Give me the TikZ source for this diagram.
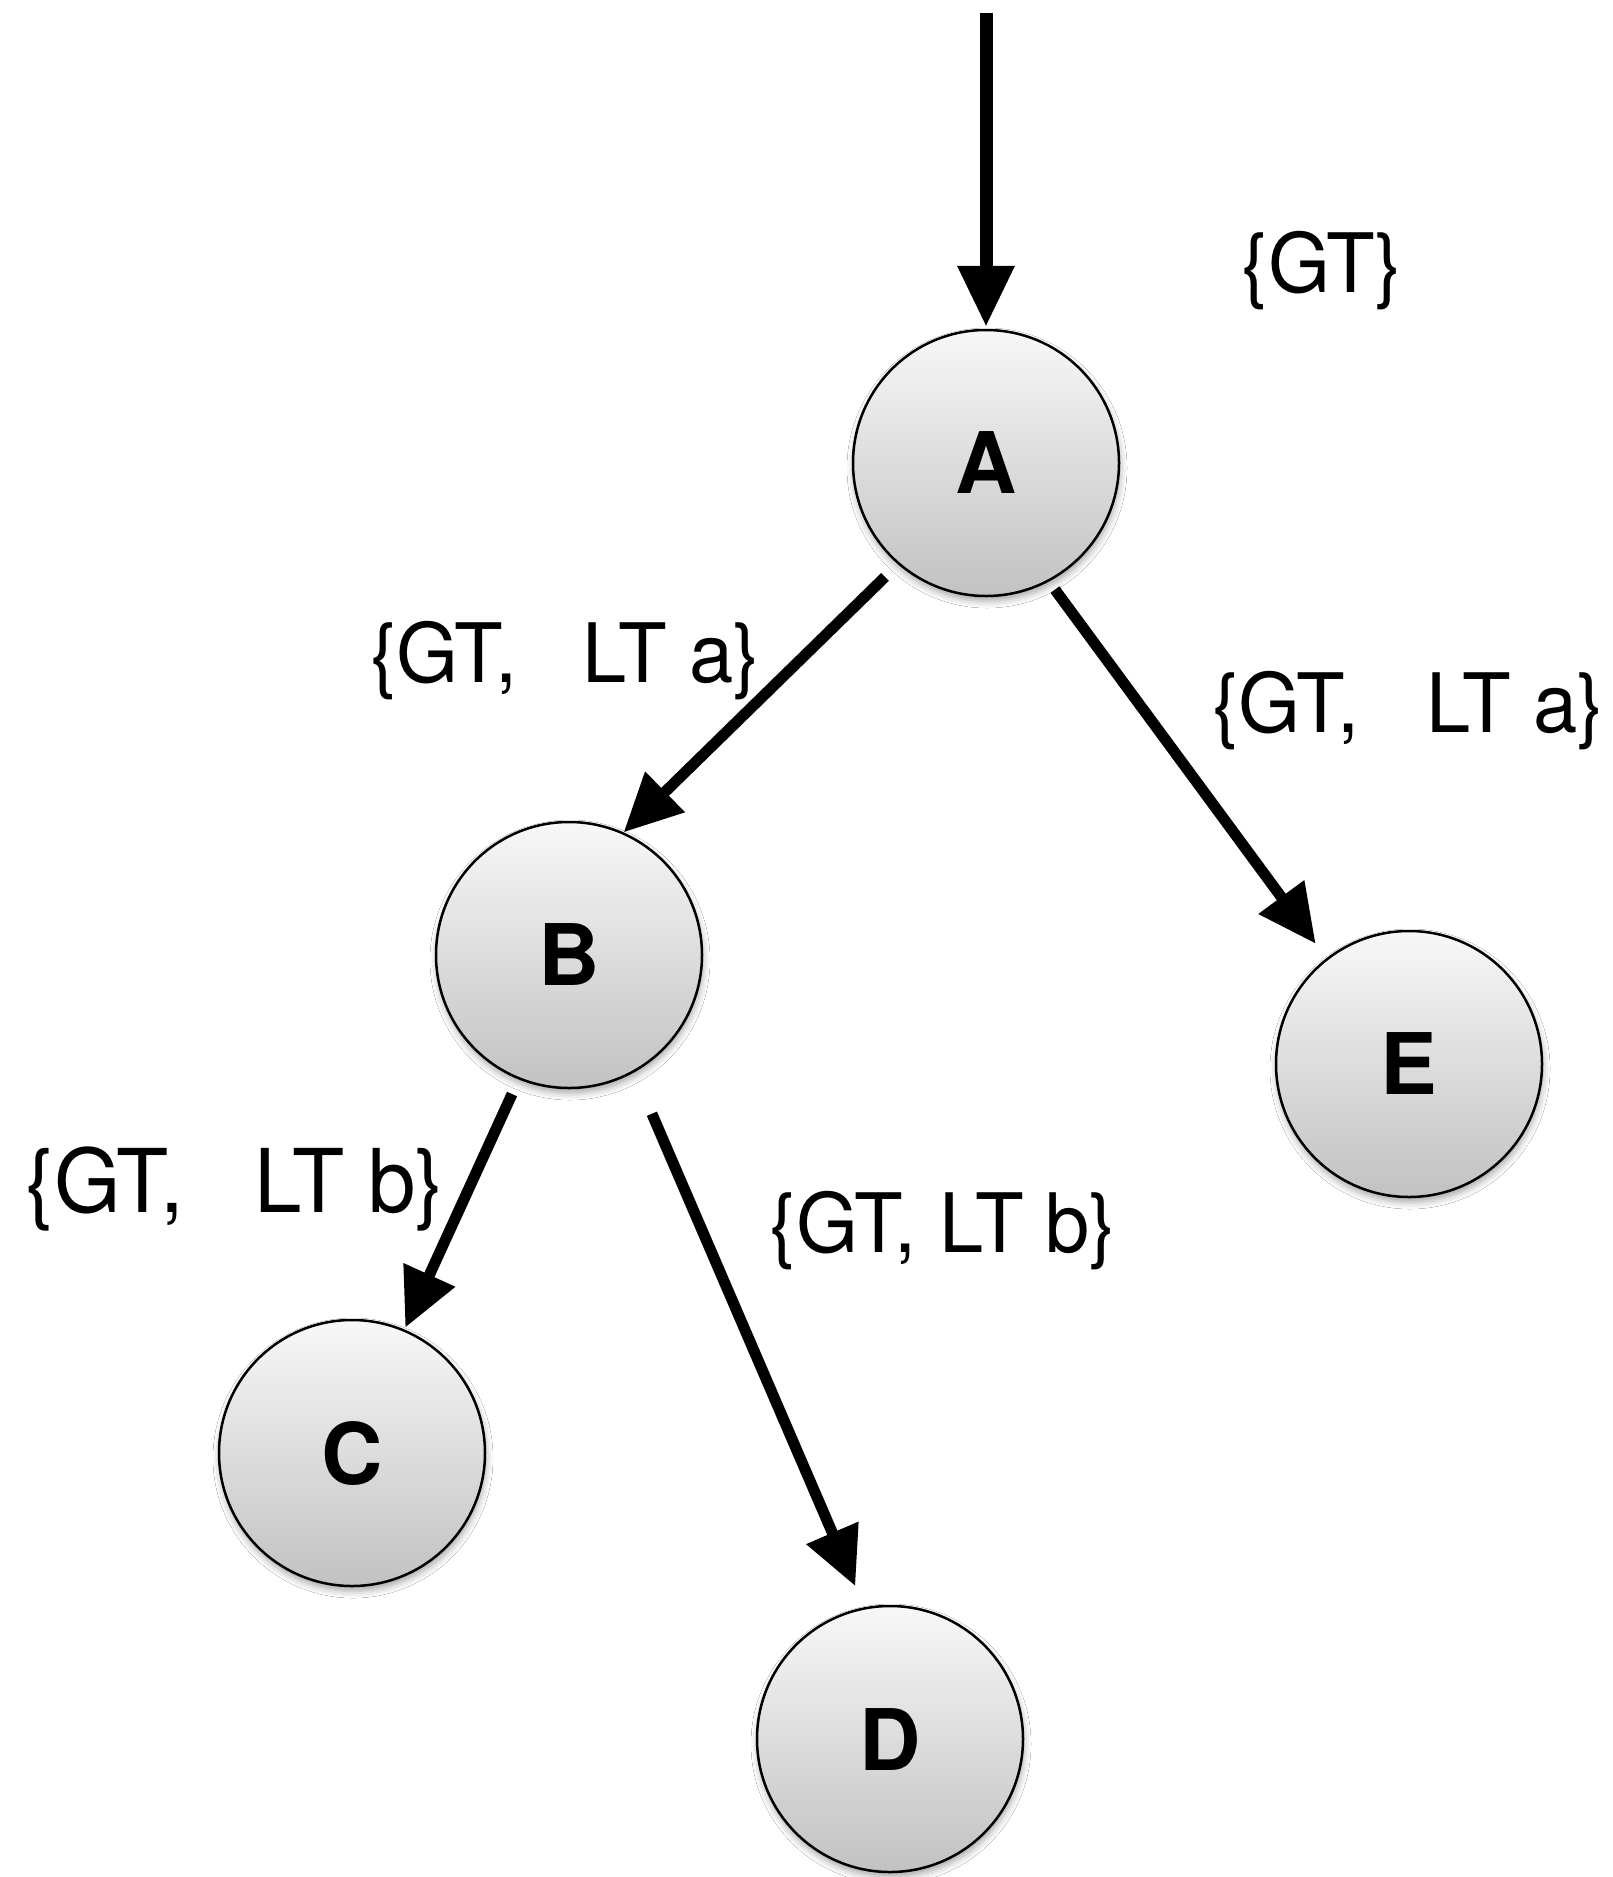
\documentclass[tikz,border=0pt]{standalone}
\usepackage{fontspec}
\setmainfont{TeX Gyre Heros}
\newfontfamily\lblfont[FakeStretch=0.97]{TeX Gyre Heros}
\newfontfamily\statefont{TeX Gyre Heros}
\usetikzlibrary{arrows.meta,shadows.blur}
\begin{document}
\begin{tikzpicture}[x=1pt,y=-1pt,
  state/.style={circle, draw=black, line width=2.5pt, minimum size=266pt, inner sep=0pt,
    top color=white!97!black, bottom color=white!76!black,
    blur shadow={shadow xshift=1pt, shadow yshift=-5pt, shadow blur radius=7pt, shadow opacity=35},
    font=\statefont\bfseries\fontsize{85}{85}\selectfont},
  lbl/.style={anchor=base, inner sep=0pt, font=\lblfont\fontsize{82}{82}\selectfont},
  arr/.style={line width=11pt, -{Triangle[length=58pt,width=54pt]}},
  toparr/.style={line width=13pt, -{Triangle[length=61pt,width=54pt]}}
]
\useasboundingbox (0,0) rectangle (1612,1877);
\fill[white] (0,0) rectangle (1612,1877);

\node[state] (A) at (986,463) {A};
\node[state] (B) at (569,955) {B};
\node[state] (E) at (1409,1064) {E};
\node[state] (C) at (352,1453) {C};
\node[state] (D) at (890,1739) {D};

\coordinate (start) at (986,13);
\draw[toparr, shorten >=2pt] (start) -- (A.90);
\draw[arr, shorten <=18pt] (A.-131.5) -- (B.66);
\draw[arr, shorten <=10pt, shorten >=18pt] (A.-62.2) -- (E.128);
\draw[arr, shorten <=16pt, shorten >=2pt] (B.-112) -- (C.67.8);
\draw[arr, shorten <=45pt, shorten >=23pt] (B.-61) -- (D.101.8);

\node[lbl] (l1) at (1322,292) {\{GT\}};
\node[lbl] (l2) at (565,682) {\{GT,\hspace{65pt}LT a\}};
\node[lbl] (l3) at (1408,732) {\{GT,\hspace{67pt}LT a\}};
\node[lbl, font=\lblfont\fontsize{88}{88}\selectfont] (l4) at (235,1212) {\{GT,\hspace{70pt}LT b\}};
\node[lbl] (l5) at (943,1252) {\{GT, LT b\}};
\end{tikzpicture}
\end{document}
